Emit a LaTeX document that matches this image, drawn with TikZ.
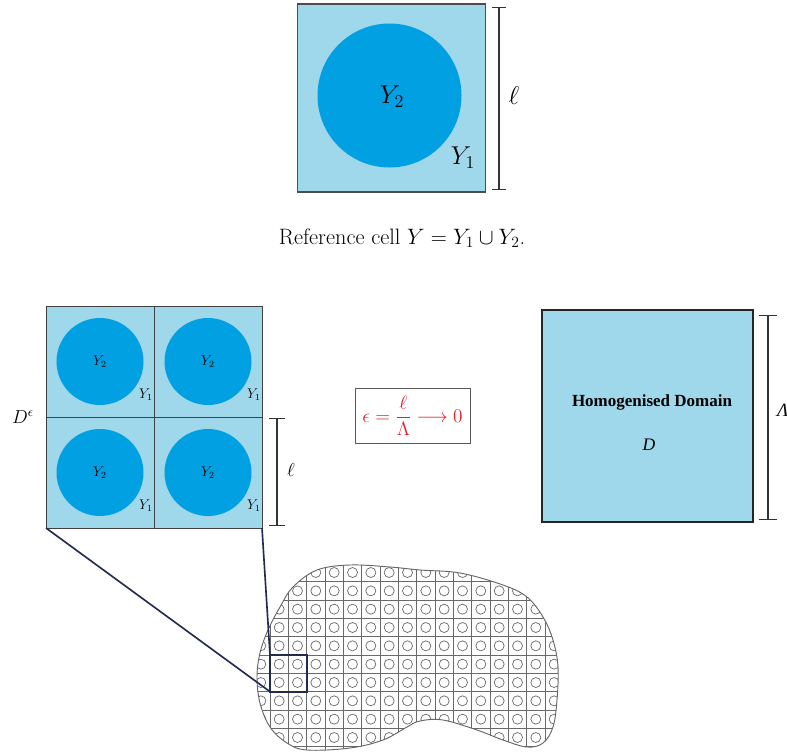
\RequirePackage{fix-cm}
\documentclass[tikz,border=0pt]{standalone}
\usepackage{amsmath}
\usepackage{fontspec}
\newfontfamily\timesfont{Liberation Serif}
\usetikzlibrary{arrows, arrows.meta, positioning, calc}

\definecolor{cellbg}{RGB}{158,216,234}
\definecolor{inclblue}{RGB}{0,160,227}
\definecolor{navy}{RGB}{35,42,80}
\definecolor{meshgray}{RGB}{105,105,105}
\definecolor{limitred}{RGB}{228,30,38}

\begin{document}
\begin{tikzpicture}[
    x=0.03cm, y=-0.03cm,
    cell/.style={rectangle, draw=black!75, line width=0.8pt, fill=cellbg, inner sep=0pt, outer sep=0pt},
    incl/.style={circle, fill=inclblue, inner sep=0pt, outer sep=0pt},
    dimbar/.style={{Bar[width=#1]}-{Bar[width=#1]}, line width=0.9pt, draw=black!80},
    zoomline/.style={draw, navy, line width=1.4pt},
    meshline/.style={draw=meshgray, line width=0.5pt},
    bigtxt/.style={font=\fontsize{22}{26}\selectfont},
    smalltxt/.style={font=\fontsize{12}{14}\selectfont}
]
\useasboundingbox (0,0) rectangle (787,751);

% reference cell
\node [cell, draw=black!70, line width=1.1pt, minimum size=5.64cm] (refcell) at (391.5,98) {};
\node [incl, minimum size=4.32cm] (refincl) at (389.5,95.5) {};
\node [bigtxt] (refY2) at (392,97) {$Y_2$};
\node [bigtxt] (refY1) at (463,158) {$Y_1$};
\coordinate (reftop) at (499,7);
\coordinate (refbot) at (499,190);
\draw [dimbar=12pt] (reftop) -- (refbot);
\node [bigtxt] (refl) at (514,96) {$\ell$};
\node [font=\fontsize{19}{22}\selectfont] (caption) at (402,238) {Reference cell $Y = Y_1 \cup Y_2$.};

% periodic microstructure
\node [minimum width=6.48cm, minimum height=6.66cm, inner sep=0pt, outer sep=0pt] (micro) at (154,417) {};
\node [cell, minimum width=3.24cm, minimum height=3.33cm] (cellA) at (100,361.5) {};
\node [cell, minimum width=3.24cm, minimum height=3.33cm] (cellB) at (208,361.5) {};
\node [cell, minimum width=3.24cm, minimum height=3.33cm] (cellC) at (100,472.5) {};
\node [cell, minimum width=3.24cm, minimum height=3.33cm] (cellD) at (208,472.5) {};
\foreach \c in {A,B,C,D} {
  \node [incl, minimum size=2.61cm, smalltxt] (incl\c) at (cell\c) {$Y_2$};
  \node [smalltxt] (ylab\c) at ($(cell\c.south east)+(-8,-22)$) {$Y_1$};
}
\node [font=\fontsize{16}{19}\selectfont] (Deps) at (23,417) {$D^\epsilon$};
\coordinate (celltop) at (277,418);
\coordinate (cellbot) at (277,526);
\draw [dimbar=13pt] (celltop) -- (cellbot);
\node [font=\fontsize{16}{19}\selectfont] (celll) at (291,470) {$\ell$};

% scale limit
\node [draw=black!65, line width=0.7pt, minimum width=3.45cm, minimum height=1.65cm, text=limitred, font=\fontsize{16.5}{19}\selectfont] (limit) at (412.5,415.5) {$\epsilon = \dfrac{\ell}{\Lambda} \longrightarrow 0$};

% homogenised domain
\node [cell, draw=black!85, line width=1.2pt, minimum width=6.33cm, minimum height=6.36cm] (homog) at (647.5,416) {};
\node [font=\timesfont\bfseries\fontsize{14.5}{17}\selectfont] (homtitle) at (652,402) {Homogenised Domain};
\node [font=\timesfont\itshape\fontsize{15}{18}\selectfont] (homD) at (649,445) {D};
\coordinate (homtop) at (768,315);
\coordinate (hombot) at (768,520);
\draw [dimbar=15pt] (homtop) -- (hombot);
\node [anchor=west, font=\timesfont\itshape\fontsize{16}{19}\selectfont] (homL) at (773,410) {Λ};

% meshed body
\begin{scope}
  \clip plot [smooth cycle, tension=0.6] coordinates {(317,570) (350,565) (390,567) (420,570) (460,573) (503,585) (527,597) (543,617) (553,640) (558,667) (557,700) (553,727) (543,743) (527,747) (503,740) (477,730) (443,720) (420,721) (407,727) (383,740) (350,748) (307,750) (287,743) (270,727) (260,703) (257,677) (260,653) (268,630) (280,607) (293,587)};
  \foreach \i in {0,...,17}
    \draw [meshline] ({251.67+18.333*\i},555) -- ({251.67+18.333*\i},760);
  \foreach \j in {0,...,10}
    \draw [meshline] (245,{563.33+18.333*\j}) -- (570,{563.33+18.333*\j});
  \foreach \i in {0,...,16}
    \foreach \j in {0,...,10}
      \draw [meshline, line width=0.6pt] ({260.83+18.333*\i},{572.5+18.333*\j}) circle [radius=0.15cm];
\end{scope}
\draw [draw=black!60, line width=0.8pt] plot [smooth cycle, tension=0.6] coordinates {(317,570) (350,565) (390,567) (420,570) (460,573) (503,585) (527,597) (543,617) (553,640) (558,667) (557,700) (553,727) (543,743) (527,747) (503,740) (477,730) (443,720) (420,721) (407,727) (383,740) (350,748) (307,750) (287,743) (270,727) (260,703) (257,677) (260,653) (268,630) (280,607) (293,587)};

% zoom
\node [draw=navy, line width=1.6pt, minimum size=1.1cm, inner sep=0pt, outer sep=0pt] (zoom) at (288.33,673.33) {};
\path [zoomline] (micro.south west) -- (zoom.south west);
\path [zoomline] (micro.south east) -- (zoom.north west);

\end{tikzpicture}
\end{document}
